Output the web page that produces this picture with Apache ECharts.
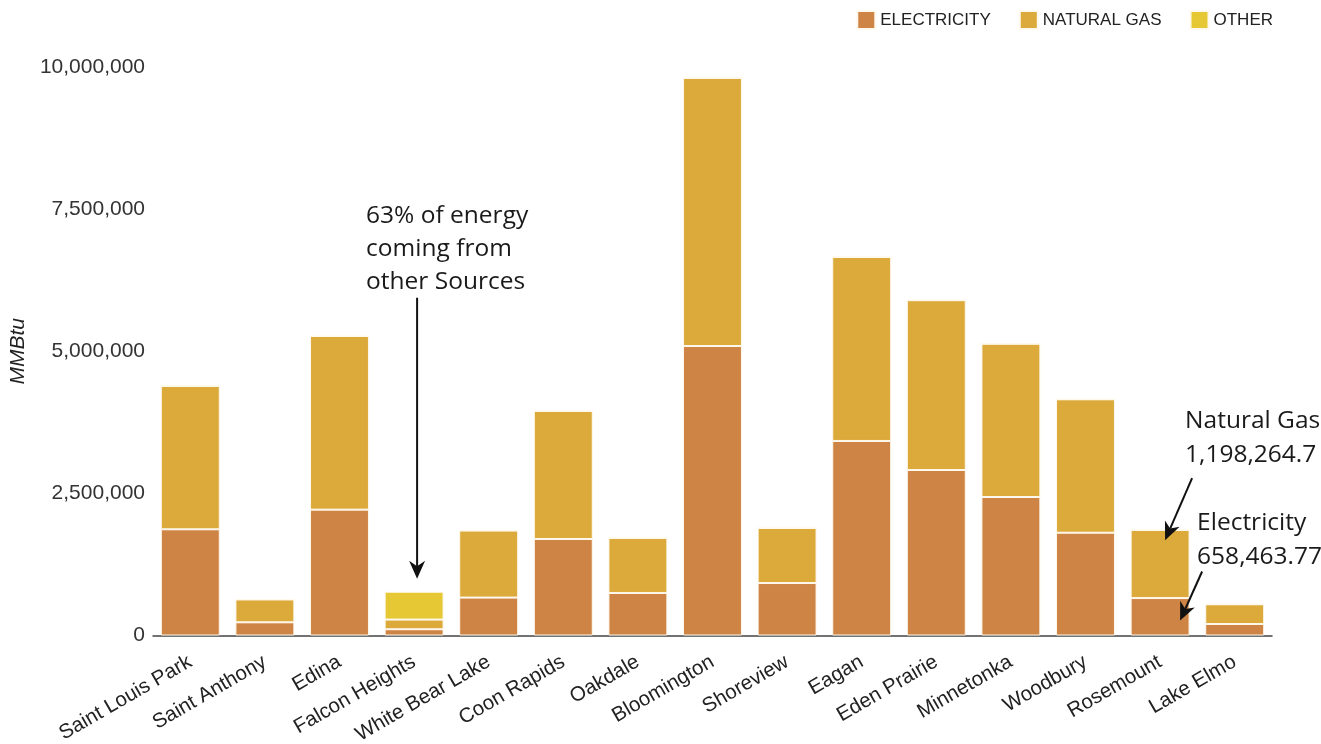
<!DOCTYPE html>
<html>
<head>
<meta charset="utf-8">
<script src="https://cdn.jsdelivr.net/npm/echarts@6/dist/echarts.min.js"></script>
<style>
  html, body { margin: 0; padding: 0; background: #fff; }
  #chart { width: 1321px; height: 744px; }
</style>
</head>
<body>
<div id="chart"></div>
<script>
// Annual energy use by city (MMBtu)
const cities = ['Saint Louis Park', 'Saint Anthony', 'Edina', 'Falcon Heights', 'White Bear Lake',
  'Coon Rapids', 'Oakdale', 'Bloomington', 'Shoreview', 'Eagan', 'Eden Prairie', 'Minnetonka',
  'Woodbury', 'Rosemount', 'Lake Elmo'];
const electricity = [1868000, 232000, 2214000, 110000, 667000, 1697000, 748000, 5092000, 923000,
  3422000, 2911000, 2436000, 1808000, 658463.77, 202000];
const naturalGas = [2521000, 402000, 3054000, 170000, 1179000, 2252000, 967000, 4715000, 968000,
  3236000, 2987000, 2697000, 2347000, 1198264.7, 347000];
const other = [0, 0, 0, 490000, 0, 0, 0, 0, 0, 0, 0, 0, 0, 0, 0];
const yTicks = [0, 2500000, 5000000, 7500000, 10000000];

const colors = { elec: '#CE8444', gas: '#DBAA3B', other: '#E6C834' };
const chart = echarts.init(document.getElementById('chart'));

const barStyle = (c) => ({ color: c, borderColor: '#FFF8EC', borderWidth: 1 });
const fmt = (v) => v.toLocaleString('en-US');

chart.setOption({
  animation: false,
  textStyle: { fontFamily: 'Liberation Sans, Arial, sans-serif' },
  legend: {
    right: 43, top: 5, itemWidth: 18, itemHeight: 18, itemGap: 28,
    icon: 'rect',
    textStyle: { fontSize: 17, color: '#222' },
    data: ['ELECTRICITY', 'NATURAL GAS', 'OTHER']
  },
  grid: { left: 153, right: 49, top: 67, bottom: 108.5, outerBoundsMode: 'none', containLabel: false },
  xAxis: {
    type: 'category', data: cities,
    axisLine: { lineStyle: { color: '#444', width: 1.5 } },
    axisTick: { show: false },
    axisLabel: { rotate: 30, fontSize: 20.5, color: '#222', margin: 25, interval: 0 }
  },
  yAxis: {
    type: 'value', min: 0, max: yTicks[yTicks.length - 1], interval: yTicks[1] - yTicks[0],
    name: 'MMBtu', nameLocation: 'middle', nameGap: 121,
    nameTextStyle: { fontSize: 21, fontStyle: 'italic', color: '#222' },
    axisLine: { show: false }, axisTick: { show: false },
    splitLine: { show: false },
    axisLabel: { fontSize: 21, color: '#333', margin: 8, formatter: (v) => fmt(v) }
  },
  series: [
    { name: 'ELECTRICITY', type: 'bar', stack: 'e', data: electricity, itemStyle: barStyle(colors.elec), barCategoryGap: '21%' },
    { name: 'NATURAL GAS', type: 'bar', stack: 'e', data: naturalGas, itemStyle: barStyle(colors.gas) },
    { name: 'OTHER', type: 'bar', stack: 'e', data: other, itemStyle: barStyle(colors.other) }
  ]
});

// Annotation callouts, positioned from the data through the axes
const px = (cat, val) => chart.convertToPixel({ xAxisIndex: 0, yAxisIndex: 0 }, [cat, val]);
const annFont = '24.5px "Open Sans", sans-serif';
const arrow = (x1, y1, x2, y2) => {
  const ang = Math.atan2(y2 - y1, x2 - x1);
  const L = 18, W = 8;
  const bx = x2 - L * Math.cos(ang), by = y2 - L * Math.sin(ang);
  const nx = -Math.sin(ang), ny = Math.cos(ang);
  const mx = bx + L * 0.3 * Math.cos(ang), my = by + L * 0.3 * Math.sin(ang);
  return [
    { type: 'line', z: 100, shape: { x1, y1, x2: mx, y2: my }, style: { stroke: '#111', lineWidth: 2 } },
    { type: 'polygon', z: 100, shape: { points: [[x2, y2], [bx + nx * W, by + ny * W], [mx, my], [bx - nx * W, by - ny * W]] }, style: { fill: '#111' } }
  ];
};

const fh = 3;
const fhTotal = electricity[fh] + naturalGas[fh] + other[fh];
const fhTop = px(cities[fh], fhTotal);
const rm = 13;
const rmGasMid = px(cities[rm], electricity[rm] + naturalGas[rm] * 0.85);
const rmElecMid = px(cities[rm], electricity[rm] * 0.4);

const elements = [
  { type: 'text', z: 100, x: fhTop[0] - 48, y: fhTop[1] - 392, style: { text: '63% of energy\ncoming from\nother Sources', font: annFont, fill: '#1a1a1a', lineHeight: 33 } },
  ...arrow(fhTop[0] + 3, fhTop[1] - 294, fhTop[0] + 3, fhTop[1] - 13),
  { type: 'text', z: 100, x: rmGasMid[0] + 25, y: rmGasMid[1] - 136, style: { text: 'Natural Gas\n' + fmt(naturalGas[rm]), font: annFont, fill: '#1a1a1a', lineHeight: 34 } },
  ...arrow(rmGasMid[0] + 32, rmGasMid[1] - 62, rmGasMid[0] + 5, rmGasMid[1]),
  { type: 'text', z: 100, x: rmElecMid[0] + 37, y: rmElecMid[1] - 115, style: { text: 'Electricity\n' + electricity[rm].toLocaleString('en-US', { minimumFractionDigits: 2 }), font: annFont, fill: '#1a1a1a', lineHeight: 34 } },
  ...arrow(rmElecMid[0] + 42, rmElecMid[1] - 49, rmElecMid[0] + 20, rmElecMid[1])
];
chart.setOption({ graphic: { elements } });
</script>
</body>
</html>
